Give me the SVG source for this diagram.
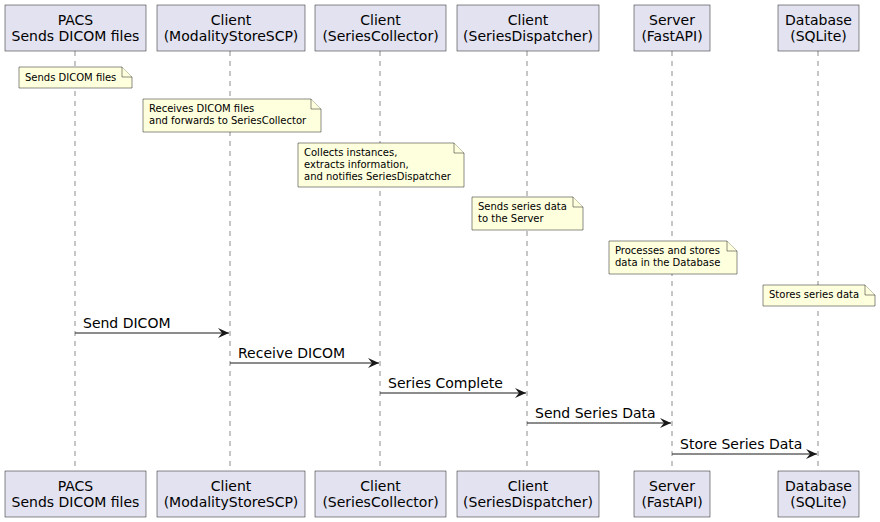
<svg xmlns="http://www.w3.org/2000/svg" width="880" height="522" viewBox="0 0 880 522">
<style>
.p{fill:#E2E2F0;stroke:#181818;stroke-width:0.5}
.pt{font-family:"DejaVu Sans",sans-serif;font-size:14px;fill:#000;text-anchor:middle}
.n{fill:#FEFFDD;stroke:#181818;stroke-width:0.5}
.nt{font-family:"DejaVu Sans",sans-serif;font-size:10px;fill:#000}
.ll{stroke:#181818;stroke-width:0.5;stroke-dasharray:5,5}
.m{stroke:#181818;stroke-width:1}
.mt{font-family:"DejaVu Sans",sans-serif;font-size:14px;fill:#000}
</style>
<defs>
<marker id="ah" markerWidth="13" markerHeight="11" refX="11" refY="5" orient="auto" markerUnits="userSpaceOnUse">
<polygon points="0,0 11,5 0,10 4,5" fill="#181818"/>
</marker>
</defs>
<rect width="880" height="522" fill="#FFFFFF"/>
<g id="lifelines">
<line class="ll" x1="75" y1="51" x2="75" y2="471"/>
<line class="ll" x1="230" y1="51" x2="230" y2="471"/>
<line class="ll" x1="380" y1="51" x2="380" y2="471"/>
<line class="ll" x1="527" y1="51" x2="527" y2="471"/>
<line class="ll" x1="672" y1="51" x2="672" y2="471"/>
<line class="ll" x1="818" y1="51" x2="818" y2="471"/>
</g>
<g id="pacs">
<rect class="p" x="5" y="5" width="141" height="46"/>
<text class="pt" x="75.5" y="25">PACS</text>
<text class="pt" x="75.5" y="41">Sends DICOM files</text>
<rect class="p" x="5" y="471" width="141" height="46"/>
<text class="pt" x="75.5" y="491">PACS</text>
<text class="pt" x="75.5" y="507">Sends DICOM files</text>
</g>
<g id="modality">
<rect class="p" x="157" y="5" width="148" height="46"/>
<text class="pt" x="231" y="25">Client</text>
<text class="pt" x="231" y="41">(ModalityStoreSCP)</text>
<rect class="p" x="157" y="471" width="148" height="46"/>
<text class="pt" x="231" y="491">Client</text>
<text class="pt" x="231" y="507">(ModalityStoreSCP)</text>
</g>
<g id="collector">
<rect class="p" x="315" y="5" width="131" height="46"/>
<text class="pt" x="380.5" y="25">Client</text>
<text class="pt" x="380.5" y="41">(SeriesCollector)</text>
<rect class="p" x="315" y="471" width="131" height="46"/>
<text class="pt" x="380.5" y="491">Client</text>
<text class="pt" x="380.5" y="507">(SeriesCollector)</text>
</g>
<g id="dispatcher">
<rect class="p" x="457" y="5" width="142" height="46"/>
<text class="pt" x="528" y="25">Client</text>
<text class="pt" x="528" y="41">(SeriesDispatcher)</text>
<rect class="p" x="457" y="471" width="142" height="46"/>
<text class="pt" x="528" y="491">Client</text>
<text class="pt" x="528" y="507">(SeriesDispatcher)</text>
</g>
<g id="server">
<rect class="p" x="634" y="5" width="76" height="46"/>
<text class="pt" x="672" y="25">Server</text>
<text class="pt" x="672" y="41">(FastAPI)</text>
<rect class="p" x="634" y="471" width="76" height="46"/>
<text class="pt" x="672" y="491">Server</text>
<text class="pt" x="672" y="507">(FastAPI)</text>
</g>
<g id="database">
<rect class="p" x="778" y="5" width="81" height="46"/>
<text class="pt" x="818.5" y="25">Database</text>
<text class="pt" x="818.5" y="41">(SQLite)</text>
<rect class="p" x="778" y="471" width="81" height="46"/>
<text class="pt" x="818.5" y="491">Database</text>
<text class="pt" x="818.5" y="507">(SQLite)</text>
</g>
<g id="note1">
<path class="n" d="M19,67 H122 L132,77 V88 H19 Z"/>
<path class="n" d="M122,67 V77 H132" fill="none"/>
<text class="nt" x="25" y="81">Sends DICOM files</text>
</g>
<g id="note2">
<path class="n" d="M143,99 H311 L321,109 V132 H143 Z"/>
<path class="n" d="M311,99 V109 H321" fill="none"/>
<text class="nt" x="149" y="112">Receives DICOM files</text>
<text class="nt" x="149" y="124">and forwards to SeriesCollector</text>
</g>
<g id="note3">
<path class="n" d="M298,143 H454 L464,153 V187 H298 Z"/>
<path class="n" d="M454,143 V153 H464" fill="none"/>
<text class="nt" x="304" y="156">Collects instances,</text>
<text class="nt" x="304" y="168">extracts information,</text>
<text class="nt" x="304" y="180">and notifies SeriesDispatcher</text>
</g>
<g id="note4">
<path class="n" d="M472,197 H573 L583,207 V230 H472 Z"/>
<path class="n" d="M573,197 V207 H583" fill="none"/>
<text class="nt" x="478" y="210">Sends series data</text>
<text class="nt" x="478" y="222">to the Server</text>
</g>
<g id="note5">
<path class="n" d="M609,241 H727 L737,251 V274 H609 Z"/>
<path class="n" d="M727,241 V251 H737" fill="none"/>
<text class="nt" x="615" y="254">Processes and stores</text>
<text class="nt" x="615" y="266">data in the Database</text>
</g>
<g id="note6">
<path class="n" d="M763,285 H865 L875,295 V306 H763 Z"/>
<path class="n" d="M865,285 V295 H875" fill="none"/>
<text class="nt" x="769" y="298">Stores series data</text>
</g>
<g id="connectors">
<line class="m" x1="75" y1="333" x2="229" y2="333" marker-end="url(#ah)"/>
<text class="mt" x="83" y="328">Send DICOM</text>
<line class="m" x1="230" y1="363" x2="379" y2="363" marker-end="url(#ah)"/>
<text class="mt" x="238" y="358">Receive DICOM</text>
<line class="m" x1="380" y1="393" x2="526" y2="393" marker-end="url(#ah)"/>
<text class="mt" x="388" y="388">Series Complete</text>
<line class="m" x1="527" y1="423" x2="671" y2="423" marker-end="url(#ah)"/>
<text class="mt" x="535" y="418">Send Series Data</text>
<line class="m" x1="672" y1="454" x2="817" y2="454" marker-end="url(#ah)"/>
<text class="mt" x="680" y="449">Store Series Data</text>
</g>
</svg>
